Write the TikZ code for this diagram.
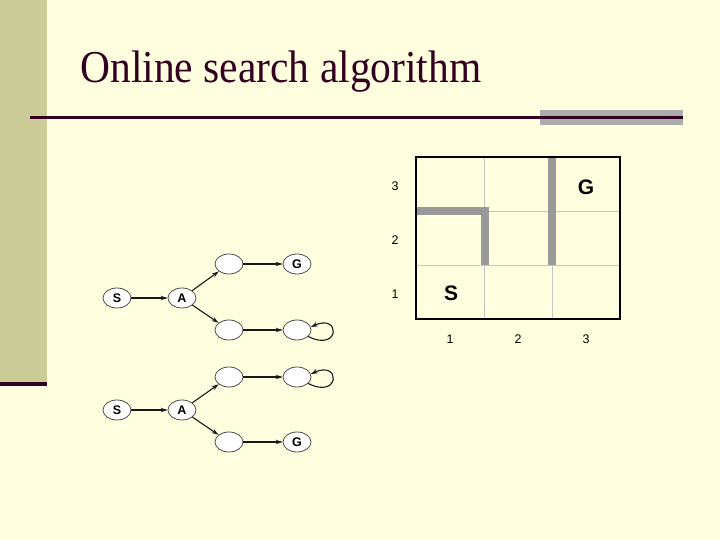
\documentclass[tikz,border=0pt]{standalone}
\usepackage{fontspec}
\setmainfont{Liberation Serif}
\setsansfont{Liberation Sans}
\usetikzlibrary{shapes.geometric,arrows.meta}
\definecolor{slidebg}{RGB}{255, 255, 224}
\definecolor{sidebar}{RGB}{204, 204, 153}
\definecolor{darkplum}{RGB}{51, 0, 34}
\definecolor{wallgray}{RGB}{153, 153, 153}
\tikzset{every picture/.style={line width=0.75pt}}

\begin{document}
\begin{tikzpicture}[x=1pt,y=1pt,yscale=-1,xscale=1,
  stnode/.style={ellipse, draw=black!70, fill=white, line width=0.8pt, minimum width=28pt, minimum height=20pt, inner sep=0pt, font=\sffamily\bfseries\fontsize{12.5}{12.5}\selectfont},
  arc/.style={-{Stealth[length=7pt,width=4.5pt]}, line width=1.1pt, black!90},
  axlbl/.style={font=\sffamily\fontsize{12.5}{12.5}\selectfont},
  celllbl/.style={font=\sffamily\bfseries\fontsize{21}{21}\selectfont}]
%background
\fill [slidebg] (0,0) rectangle (720,540);
\useasboundingbox (0,0) rectangle (720,540);
%Shape: Rectangle [side bar]
\fill [sidebar] (0,0) rectangle (47,382);
\fill [darkplum] (0,382) rectangle (47,386);
%Title
\node [anchor=base west, inner sep=0pt, text=darkplum, font=\fontsize{41.5}{41.5}\selectfont] (title) at (80,83) {\scalebox{1}[1.1]{Online search algorithm}};
%Shape: Rectangle [rule accent]
\fill [gray!65] (540,110) rectangle (683,125);
%Straight Lines [rule]
\draw [darkplum, line width=2.8pt] (30,117.5) -- (683,117.5);

%Grid: cells
\draw [gray!45, line width=0.7pt] (484,157) -- (484,319) (552,157) -- (552,319) (416,211) -- (620,211) (416,265) -- (620,265);
%Grid: walls
\draw [wallgray, line width=8pt] (416,211) -- (488.5,211);
\draw [wallgray, line width=8pt] (484.5,207) -- (484.5,265);
\draw [wallgray, line width=8pt] (552,157) -- (552,265);
%Grid: border
\draw [black, line width=2.8pt] (416,157) rectangle (620,319);
\node [axlbl] (r3) at (395,186) {3};
\node [axlbl] (r2) at (395,240) {2};
\node [axlbl] (r1) at (395,294) {1};
\node [axlbl] (c1) at (450,339) {1};
\node [axlbl] (c2) at (518,339) {2};
\node [axlbl] (c3) at (586,339) {3};
\node [celllbl] (start) at (451,293) {S};
\node [celllbl] (goal) at (586,187) {G};

%Tree 1
\node [stnode] (s1) at (117,298) {S};
\node [stnode] (a1) at (182,298) {A};
\node [stnode] (u1) at (229,264) {};
\node [stnode] (g1) at (297,264) {G};
\node [stnode] (l1) at (229,330) {};
\node [stnode] (d1) at (297,330) {};
\draw [arc] (s1) -- (a1);
\draw [arc] (a1) -- (u1);
\draw [arc] (a1) -- (l1);
\draw [arc] (u1) -- (g1);
\draw [arc] (l1) -- (d1);
\draw [arc] (d1.-30) .. controls +(32,16) and +(30,-14) .. (d1.12);

%Tree 2
\node [stnode] (s2) at (117,410) {S};
\node [stnode] (a2) at (182,410) {A};
\node [stnode] (u2) at (229,377) {};
\node [stnode] (d2) at (297,377) {};
\node [stnode] (l2) at (229,442) {};
\node [stnode] (g2) at (297,442) {G};
\draw [arc] (s2) -- (a2);
\draw [arc] (a2) -- (u2);
\draw [arc] (a2) -- (l2);
\draw [arc] (u2) -- (d2);
\draw [arc] (l2) -- (g2);
\draw [arc] (d2.-30) .. controls +(32,16) and +(30,-14) .. (d2.12);
\end{tikzpicture}
\end{document}
